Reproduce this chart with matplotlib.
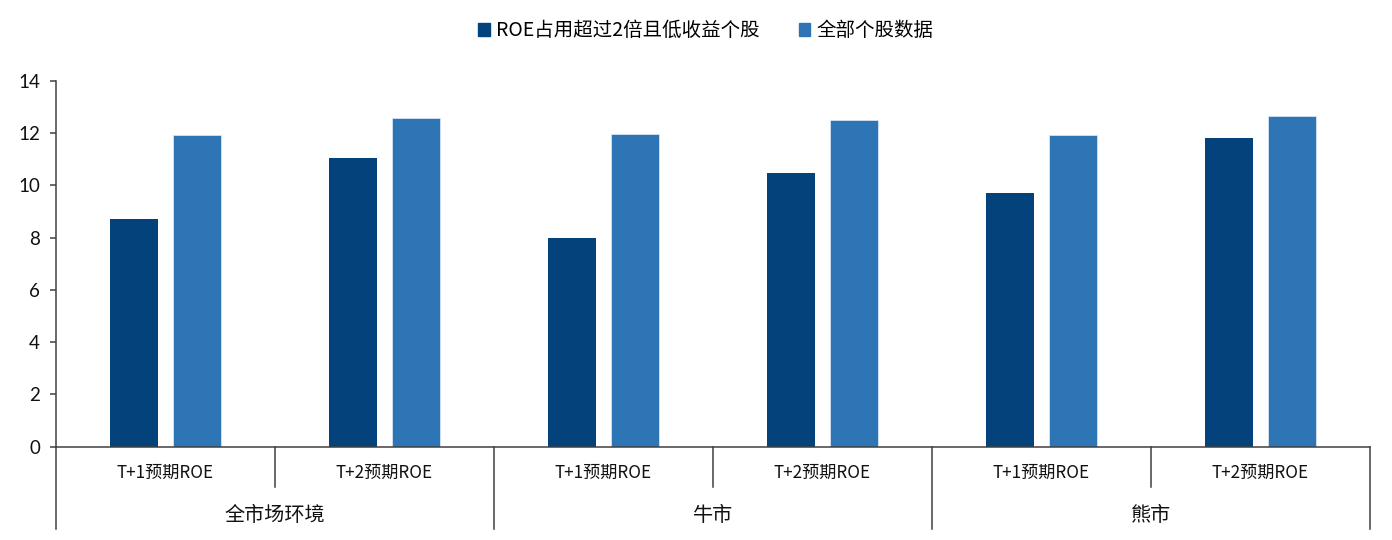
import numpy as np
import matplotlib.pyplot as plt
from matplotlib.patches import Patch

plt.rcParams['font.family'] = ['Noto Sans CJK SC', 'DejaVu Sans']

# data
periods = ["T+1预期ROE", "T+2预期ROE"]
markets = ["全市场环境", "牛市", "熊市"]
series_names = ["ROE占用超过2倍且低收益个股", "全部个股数据"]
low_return = [8.70, 11.03, 7.97, 10.48, 9.72, 11.80]
all_stocks = [11.91, 12.56, 11.95, 12.50, 11.91, 12.65]
y_ticks = [0, 2, 4, 6, 8, 10, 12, 14]

dark_blue = '#03427a'
light_blue = '#2e75b6'
line_col = '#404040'

fig = plt.figure(figsize=(13.92, 5.4), dpi=100)
ax = fig.add_axes([0.0402, 0.173, 0.944, 0.6775])

x = np.arange(len(low_return))
w = 0.22
off = 0.143
ax.bar(x - off, low_return, width=w, color=dark_blue)
ax.bar(x + off, all_stocks, width=w, color=light_blue, edgecolor='#d6e4f2', linewidth=0.6)

ax.set_xlim(-0.5, len(x) - 0.5)
ax.set_ylim(0, 14)
ax.set_yticks(y_ticks)
ax.set_yticklabels([str(t) for t in y_ticks], family='Lato', fontsize=13.5)
ax.tick_params(axis='y', length=4.5, width=1.1, color=line_col, pad=7, labelcolor='#111111')
ax.set_xticks([])

for s in ['top', 'right']:
    ax.spines[s].set_visible(False)
for s in ['left', 'bottom']:
    ax.spines[s].set_color(line_col)
    ax.spines[s].set_linewidth(1.1)

trans = ax.get_xaxis_transform()

# two-level category axis
n_per = len(periods)
for i in range(len(x)):
    ax.text(i, -0.072, periods[i % n_per], transform=trans, ha='center', va='center',
            fontsize=12.3, color='#111111')
for k in range(1, len(x)):
    if k % n_per != 0:
        ax.plot([k - 0.5, k - 0.5], [0, -0.110], transform=trans, color=line_col,
                lw=1.1, clip_on=False)
for j, m in enumerate(markets):
    ax.text(j * n_per + (n_per - 1) / 2, -0.189, m, transform=trans, ha='center',
            va='center', fontsize=14.5, color='#111111')
for j in range(len(markets) + 1):
    xb = j * n_per - 0.5
    ax.plot([xb, xb], [0, -0.225], transform=trans, color=line_col, lw=1.1, clip_on=False)

handles = [Patch(color=dark_blue), Patch(color=light_blue)]
fig.legend(handles, series_names, loc='center', bbox_to_anchor=(0.507, 0.943), ncol=2,
           frameon=False, fontsize=14, handlelength=0.6, handleheight=0.6,
           handletextpad=0.3, columnspacing=2.0)

fig.savefig('out.png', dpi=100)
